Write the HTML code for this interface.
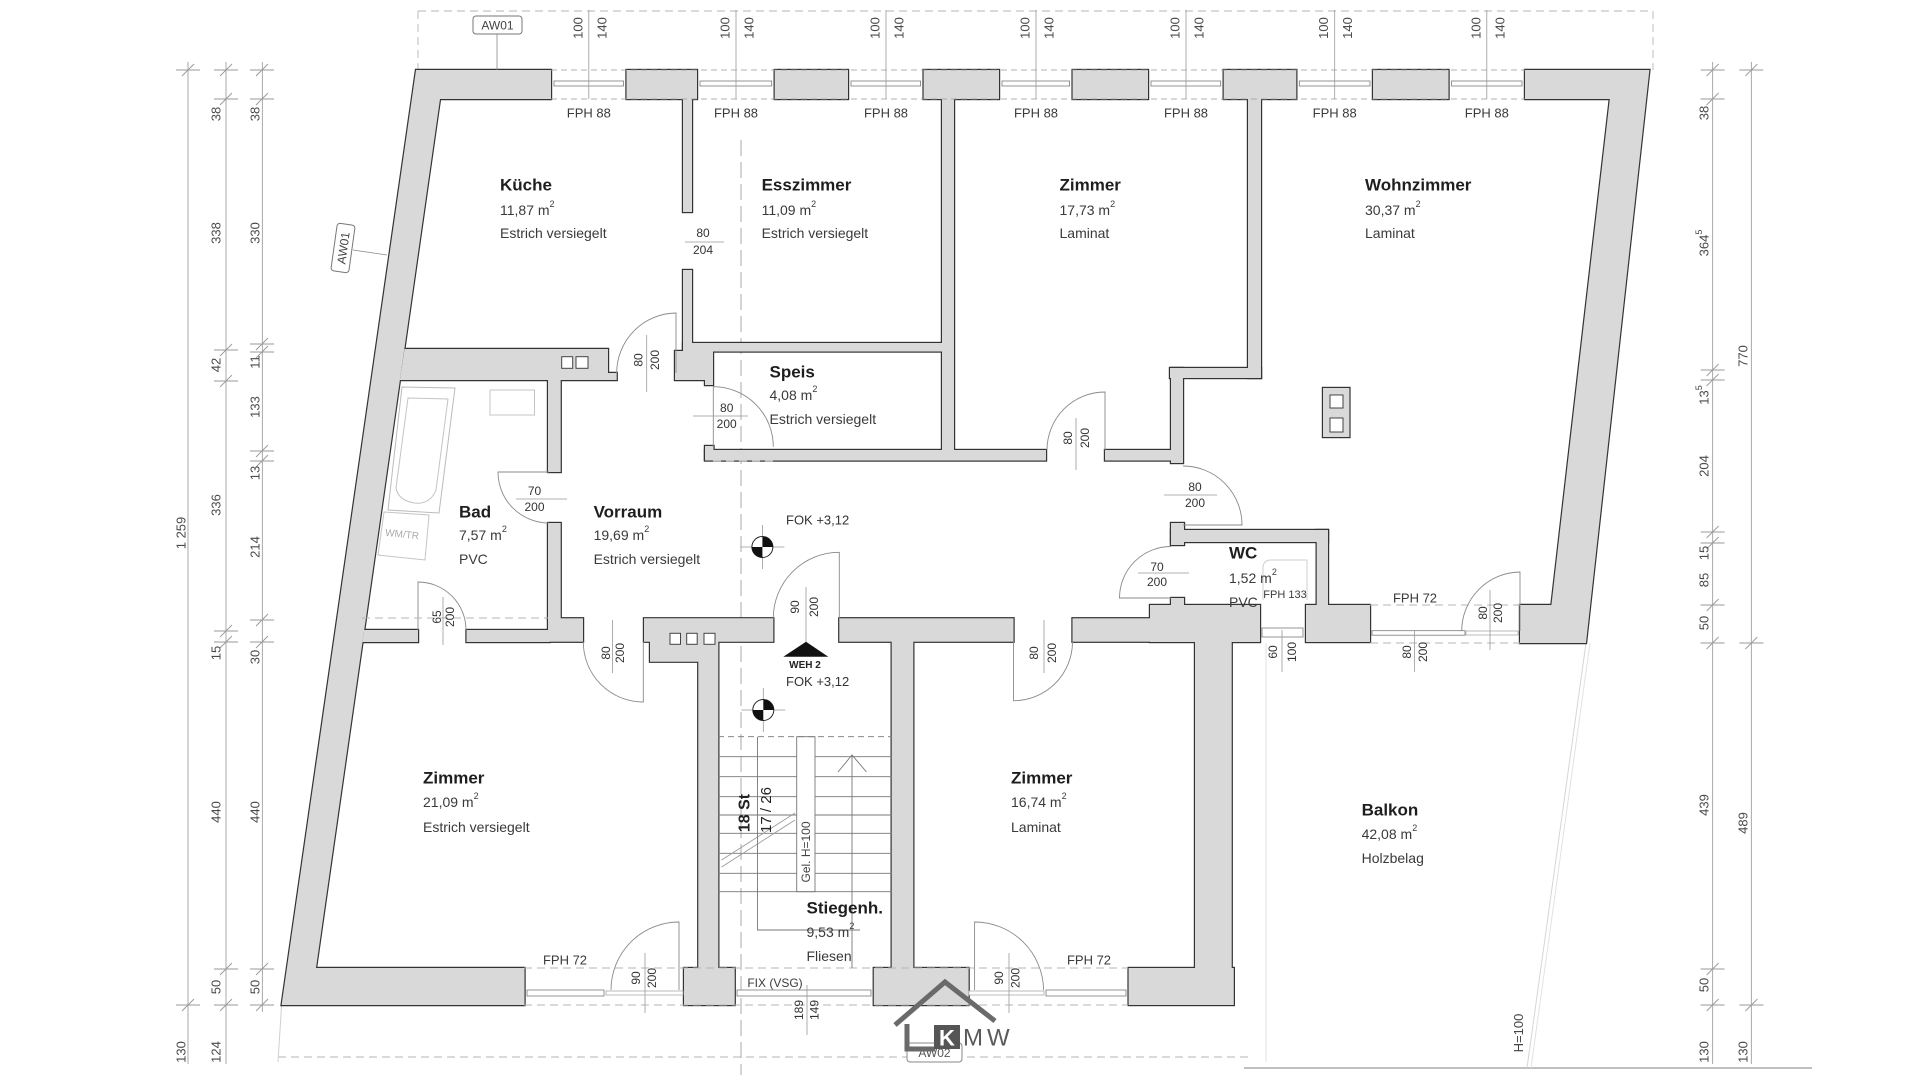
<!DOCTYPE html>
<html><head><meta charset="utf-8"><style>
html,body{margin:0;padding:0;background:#fff;}
svg{display:block;font-family:"Liberation Sans",sans-serif;}
.rn{font-size:17px;font-weight:bold;fill:#1e1e1e;}
.rd{font-size:14px;fill:#3a3a3a;}
.dm{font-size:13px;fill:#4a4a4a;}
.dl{font-size:12px;fill:#333;}
.fp{font-size:13px;fill:#3a3a3a;}
.thin{stroke:#8a8a8a;stroke-width:0.8;fill:none;}
.door{stroke:#8a8a8a;stroke-width:0.9;fill:none;}
.dash{stroke:#b5b5b5;stroke-width:0.9;stroke-dasharray:8 5;fill:none;}
.tick{stroke:#9a9a9a;stroke-width:0.9;}
.gl{stroke:#777;stroke-width:0.8;fill:#fff;}
</style></head><body>
<svg width="1920" height="1080" viewBox="0 0 1920 1080" xmlns="http://www.w3.org/2000/svg">
<defs>
<g id="walls">
  <!-- left outer wall + bottom left -->
  <polygon points="416,70 551,70 551,99 440,99 316,968 524.5,968 524.5,1005 281.6,1005"/>
  <!-- right outer wall -->
  <polygon points="1525,70 1649.4,70 1586,643 1520,643 1520,605 1551.4,605 1609.8,99 1525,99"/>
  <!-- top segments -->
  <rect x="626.5" y="70" width="70.5" height="29"/>
  <rect x="774.7" y="70" width="73.3" height="29"/>
  <rect x="923.6" y="70" width="75.4" height="29"/>
  <rect x="1072.6" y="70" width="75.4" height="29"/>
  <rect x="1223.7" y="70" width="72.6" height="29"/>
  <rect x="1373" y="70" width="75.5" height="29"/>
  <!-- interior -->
  <rect x="683" y="99" width="9" height="113"/>
  <rect x="683" y="270" width="9" height="80"/>
  <rect x="942" y="99" width="12" height="361"/>
  <rect x="683" y="343" width="259" height="8.5"/>
  <polygon points="675,351 713,351 713,385 705,385 705,380 675,380"/>
  <rect x="705" y="446" width="8.5" height="14"/>
  <rect x="705" y="450" width="341" height="10.5"/>
  <rect x="1105" y="450" width="77" height="10.5"/>
  <rect x="1248" y="99" width="13" height="279"/>
  <rect x="1170" y="368" width="91" height="10"/>
  <rect x="1171" y="368" width="12" height="95"/>
  <rect x="1171" y="523" width="13" height="22"/>
  <rect x="1171" y="530" width="157" height="12"/>
  <rect x="1316.7" y="530" width="11.3" height="76"/>
  <rect x="1171" y="598" width="13" height="20"/>
  <rect x="1150" y="605" width="110" height="37"/>
  <rect x="1306" y="605" width="64" height="37"/>
  <!-- Bad top wall -->
  <polygon points="404.5,349 608,349 608,373 616.7,373 616.7,380 399.9,380"/>
  <rect x="548" y="378" width="12.7" height="94"/>
  <rect x="548" y="523" width="12.7" height="96"/>
  <rect x="548" y="618.3" width="35" height="23.4"/>
  <polygon points="364.2,630 418,630 418,642 362.5,642"/>
  <rect x="466.5" y="630" width="83" height="12"/>
  <!-- stair block -->
  <polygon points="644,618.3 773.3,618.3 773.3,641.7 718.3,641.7 718.3,968 698.3,968 698.3,661.7 650,661.7 650,641.7 644,641.7"/>
  <rect x="839.3" y="618.3" width="174.2" height="23.4"/>
  <rect x="1072.5" y="618.3" width="100" height="23.4"/>
  <rect x="891.7" y="641" width="21.6" height="328"/>
  <rect x="1195" y="640" width="36.7" height="329"/>
  <!-- bottom blocks -->
  <rect x="684" y="968" width="50.7" height="37"/>
  <rect x="873.8" y="968" width="94.8" height="37"/>
  <rect x="1128.6" y="968" width="105.2" height="37"/>
  <!-- shaft -->
  <rect x="1323" y="388" width="26.4" height="49"/>
</g>
</defs>

<!-- guide dashed lines -->
<line x1="418" y1="11" x2="1653" y2="11" class="dash" stroke="#c8c8c8"/>
<line x1="418" y1="11" x2="418" y2="70" class="dash"/>
<line x1="1653" y1="11" x2="1653" y2="70" class="dash"/>
<line x1="278" y1="1057" x2="1250" y2="1057" class="dash" stroke="#cfcfcf"/>
<line x1="1244" y1="1068" x2="1812" y2="1068" stroke="#9a9a9a" stroke-width="1.2"/>
<line x1="281.6" y1="1005" x2="278" y2="1062" stroke="#d0d0d0" stroke-width="1"/>
<line x1="1586" y1="643" x2="1527" y2="1068" stroke="#d6d6d6" stroke-width="1"/>
<line x1="1590" y1="643" x2="1531" y2="1068" stroke="#e2e2e2" stroke-width="1"/>
<line x1="1266" y1="643" x2="1266" y2="1062" stroke="#e0e0e0" stroke-width="1"/>
<line x1="741" y1="140" x2="741" y2="1075" stroke="#aaaaaa" stroke-width="1" stroke-dasharray="16 6"/>

<!-- walls -->
<use href="#walls" fill="#d9d9d9" stroke="#333" stroke-width="2.4"/>
<use href="#walls" fill="#d9d9d9" stroke="none"/>

<!-- shaft squares -->
<rect x="1330" y="395" width="13" height="13" fill="#fff" stroke="#444" stroke-width="1"/>
<rect x="1330" y="418" width="13" height="14" fill="#fff" stroke="#444" stroke-width="1"/>
<rect x="561.7" y="356.7" width="11" height="11.6" fill="#fff" stroke="#444" stroke-width="1"/>
<rect x="576" y="356.7" width="12" height="11.6" fill="#fff" stroke="#444" stroke-width="1"/>
<rect x="670" y="633.3" width="10.5" height="11" fill="#fff" stroke="#444" stroke-width="1"/>
<rect x="686.7" y="633.3" width="10.5" height="11" fill="#fff" stroke="#444" stroke-width="1"/>
<rect x="704" y="633.3" width="11" height="11" fill="#fff" stroke="#444" stroke-width="1"/>

<!-- top windows -->
<g>
  <g id="w1">
  </g>
</g>
<g class="thin">
  <line x1="551" y1="70" x2="1525" y2="70" stroke-dasharray="6 4" stroke="#999"/>
  <line x1="551" y1="99" x2="1525" y2="99" stroke-dasharray="6 4" stroke="#999"/>
</g>
<g fill="#fff" stroke="#7a7a7a" stroke-width="0.8">
  <rect x="554" y="81" width="69.5" height="5"/>
  <rect x="700" y="81" width="71.7" height="5"/>
  <rect x="851" y="81" width="69.6" height="5"/>
  <rect x="1002" y="81" width="67.6" height="5"/>
  <rect x="1151" y="81" width="69.7" height="5"/>
  <rect x="1299.3" y="81" width="70.7" height="5"/>
  <rect x="1451.5" y="81" width="70.5" height="5"/>
</g>
<g stroke="#9a9a9a" stroke-width="0.8">
  <line x1="588.8" y1="10" x2="588.8" y2="99"/>
  <line x1="736" y1="10" x2="736" y2="99"/>
  <line x1="886" y1="10" x2="886" y2="99"/>
  <line x1="1036" y1="10" x2="1036" y2="99"/>
  <line x1="1186" y1="10" x2="1186" y2="99"/>
  <line x1="1334.7" y1="10" x2="1334.7" y2="99"/>
  <line x1="1486.8" y1="10" x2="1486.8" y2="99"/>
</g>
<g class="dm" text-anchor="middle" dominant-baseline="central">
  <text transform="translate(577.8,28) rotate(-90)">100</text><text transform="translate(601.8,28) rotate(-90)">140</text>
  <text transform="translate(725,28) rotate(-90)">100</text><text transform="translate(749,28) rotate(-90)">140</text>
  <text transform="translate(875,28) rotate(-90)">100</text><text transform="translate(899,28) rotate(-90)">140</text>
  <text transform="translate(1025,28) rotate(-90)">100</text><text transform="translate(1049,28) rotate(-90)">140</text>
  <text transform="translate(1175,28) rotate(-90)">100</text><text transform="translate(1199,28) rotate(-90)">140</text>
  <text transform="translate(1323.7,28) rotate(-90)">100</text><text transform="translate(1347.7,28) rotate(-90)">140</text>
  <text transform="translate(1475.8,28) rotate(-90)">100</text><text transform="translate(1499.8,28) rotate(-90)">140</text>
</g>
<g class="fp" text-anchor="middle" dominant-baseline="central">
  <text x="588.8" y="113">FPH 88</text>
  <text x="736" y="113">FPH 88</text>
  <text x="886" y="113">FPH 88</text>
  <text x="1036" y="113">FPH 88</text>
  <text x="1186" y="113">FPH 88</text>
  <text x="1334.7" y="113">FPH 88</text>
  <text x="1486.8" y="113">FPH 88</text>
</g>

<!-- AW01 tags -->
<rect x="473" y="16" width="49" height="18" rx="3" fill="#fff" stroke="#777" stroke-width="1"/>
<text x="497.5" y="25.5" text-anchor="middle" dominant-baseline="central" font-size="12" fill="#444">AW01</text>
<line x1="497" y1="34" x2="497" y2="70" stroke="#888" stroke-width="0.8"/>
<g transform="translate(343,248) rotate(-82)">
  <rect x="-24" y="-9" width="48" height="18" rx="3" fill="#fff" stroke="#777" stroke-width="1"/>
  <text x="0" y="0.5" text-anchor="middle" dominant-baseline="central" font-size="12" fill="#444">AW01</text>
</g>
<line x1="353" y1="250" x2="387" y2="255" stroke="#888" stroke-width="0.8"/>

<!-- bathroom fixtures -->
<polygon points="402,387 455,388 439,513 388,510" fill="none" stroke="#bbb" stroke-width="1"/>
<path d="M408,398 L448,399 L436,490 Q430,505 414,503 Q398,500 396,488 Z" fill="none" stroke="#c4c4c4" stroke-width="1"/>
<polygon points="384,512 429,515 425,560 378,555" fill="none" stroke="#c4c4c4" stroke-width="1"/>
<text transform="translate(402,535) rotate(6)" text-anchor="middle" dominant-baseline="central" font-size="10" fill="#aaa">WM/TR</text>
<rect x="490" y="390" width="44.5" height="25" fill="none" stroke="#c4c4c4" stroke-width="1"/>
<path d="M1263,600 L1263,568 Q1263,560 1271,560 L1307,560 L1307,600" fill="none" stroke="#cfcfcf" stroke-width="1"/>

<!-- doors -->
<g class="door">
  <path d="M676,373 L676,313 A60,60 0 0,0 616.7,373"/>
  <path d="M713.3,446.7 L713.3,386.7 A60,60 0 0,1 773.3,446.7"/>
  <path d="M549,472 L498,472 A51,51 0 0,0 549,523"/>
  <path d="M418,630 L418,582 A48,48 0 0,1 466,630"/>
  <path d="M643.3,641.7 L643.3,702 A60,60 0 0,1 583.3,641.7"/>
  <path d="M839.3,618.3 L839.3,552.3 A66,66 0 0,0 773.3,618.3"/>
  <path d="M1105,450 L1105,392 A58,58 0 0,0 1047,450"/>
  <path d="M1183,525 L1242,525 A59,59 0 0,0 1183,466"/>
  <path d="M1171,598 L1119.5,598 A51.5,51.5 0 0,1 1171,546.5"/>
  <path d="M1013.5,641.7 L1013.5,700.7 A59,59 0 0,0 1072.5,641.7"/>
  <path d="M1520,631 L1520,572 A59,59 0 0,0 1461.7,631"/>
  <path d="M679,990 L679,922 A68,68 0 0,0 611,990"/>
  <path d="M974.6,990 L974.6,922 A69,69 0 0,1 1043.6,990"/>
</g>

<!-- bottom/other windows glazing -->
<g fill="#fff" stroke="#7a7a7a" stroke-width="0.8">
  <rect x="527" y="990" width="77" height="6"/>
  <rect x="737" y="990" width="134" height="6"/>
  <rect x="1046" y="990" width="80" height="6"/>
  <rect x="1262" y="628" width="41" height="9"/>
  <rect x="1372" y="630.7" width="93" height="4.5"/>
  <rect x="606" y="991" width="77" height="4" stroke="#aaa"/>
  <rect x="969" y="991" width="75" height="4" stroke="#aaa"/>
  <rect x="1466" y="631" width="52" height="4" stroke="#aaa"/>
</g>
<g class="dash">
  <line x1="524" y1="968" x2="1128" y2="968"/>
  <line x1="524" y1="1005" x2="1128" y2="1005"/>
  <line x1="1370" y1="643" x2="1520" y2="643"/>
  <line x1="1370" y1="605" x2="1520" y2="605"/>
  <line x1="362" y1="618" x2="548" y2="618"/>
  <line x1="713" y1="461" x2="776" y2="461"/>
</g>

<!-- door / window labels -->
<g class="dl" text-anchor="middle" dominant-baseline="central">
  <text x="703" y="233">80</text><text x="703" y="250">204</text>
  <text x="726.7" y="408">80</text><text x="726.7" y="424">200</text>
  <text x="534.5" y="491">70</text><text x="534.5" y="507">200</text>
  <text x="1195" y="487">80</text><text x="1195" y="503">200</text>
  <text x="1157" y="567">70</text><text x="1157" y="582">200</text>
  <text transform="translate(638.3,360) rotate(-90)">80</text><text transform="translate(655,360) rotate(-90)">200</text>
  <text transform="translate(437,617) rotate(-90)">65</text><text transform="translate(450,617) rotate(-90)">200</text>
  <text transform="translate(606,653) rotate(-90)">80</text><text transform="translate(620,653) rotate(-90)">200</text>
  <text transform="translate(795,607) rotate(-90)">90</text><text transform="translate(814,607) rotate(-90)">200</text>
  <text transform="translate(1034,653) rotate(-90)">80</text><text transform="translate(1052,653) rotate(-90)">200</text>
  <text transform="translate(1068,438) rotate(-90)">80</text><text transform="translate(1085,438) rotate(-90)">200</text>
  <text transform="translate(1273,652) rotate(-90)">60</text><text transform="translate(1292,652) rotate(-90)">100</text>
  <text transform="translate(1407,652) rotate(-90)">80</text><text transform="translate(1423,652) rotate(-90)">200</text>
  <text transform="translate(1483,613) rotate(-90)">80</text><text transform="translate(1498,613) rotate(-90)">200</text>
  <text transform="translate(636,978) rotate(-90)">90</text><text transform="translate(652,978) rotate(-90)">200</text>
  <text transform="translate(799,1010) rotate(-90)">189</text><text transform="translate(814.6,1010) rotate(-90)">149</text>
  <text transform="translate(999,978) rotate(-90)">90</text><text transform="translate(1015.4,978) rotate(-90)">200</text>
</g>
<g stroke="#999" stroke-width="0.8">
  <line x1="685" y1="242" x2="724" y2="242"/>
  <line x1="693" y1="416" x2="748" y2="416"/>
  <line x1="516" y1="499" x2="567" y2="499"/>
  <line x1="1164" y1="495" x2="1217" y2="495"/>
  <line x1="1138" y1="573" x2="1189" y2="573"/>
  <line x1="646.7" y1="335" x2="646.7" y2="392"/>
  <line x1="443" y1="597" x2="443" y2="645"/>
  <line x1="612.5" y1="620" x2="612.5" y2="673"/>
  <line x1="806" y1="587" x2="806" y2="642"/>
  <line x1="1044" y1="620" x2="1044" y2="673"/>
  <line x1="1076" y1="418" x2="1076" y2="470"/>
  <line x1="1282" y1="630" x2="1282" y2="672"/>
  <line x1="1414.6" y1="630" x2="1414.6" y2="672"/>
  <line x1="1490" y1="590" x2="1490" y2="650"/>
  <line x1="645" y1="953" x2="645" y2="1013"/>
  <line x1="807" y1="985" x2="807" y2="1035"/>
  <line x1="1009" y1="953" x2="1009" y2="1013"/>
</g>
<g class="fp" text-anchor="middle" dominant-baseline="central">
  <text x="565" y="960">FPH 72</text>
  <text x="1089" y="960">FPH 72</text>
  <text x="1415" y="598">FPH 72</text>
  <text x="1285" y="595" font-size="11">FPH 133</text>
  <text x="775" y="983" font-size="12">FIX (VSG)</text>
</g>

<!-- stairs -->
<g stroke="#777" stroke-width="0.9" fill="none">
  <line x1="718" y1="736.7" x2="891.7" y2="736.7" stroke-dasharray="6 4"/>
  <line x1="718" y1="891.7" x2="891.7" y2="891.7"/>
  <rect x="796.7" y="736.7" width="18.3" height="155"/>
  <line x1="718" y1="756.7" x2="796.7" y2="756.7"/><line x1="815" y1="756.7" x2="891.7" y2="756.7"/>
  <line x1="718" y1="776.7" x2="796.7" y2="776.7"/><line x1="815" y1="776.7" x2="891.7" y2="776.7"/>
  <line x1="718" y1="796.7" x2="796.7" y2="796.7"/><line x1="815" y1="796.7" x2="891.7" y2="796.7"/>
  <line x1="718" y1="815" x2="796.7" y2="815"/><line x1="815" y1="815" x2="891.7" y2="815"/>
  <line x1="718" y1="833.3" x2="796.7" y2="833.3"/><line x1="815" y1="833.3" x2="891.7" y2="833.3"/>
  <line x1="718" y1="853.3" x2="796.7" y2="853.3"/><line x1="815" y1="853.3" x2="891.7" y2="853.3"/>
  <line x1="718" y1="873.3" x2="796.7" y2="873.3"/><line x1="815" y1="873.3" x2="891.7" y2="873.3"/>
  <line x1="721.6" y1="860" x2="795" y2="813" stroke="#999"/>
  <line x1="721.6" y1="867" x2="795" y2="820" stroke="#999"/>
  <line x1="852" y1="755" x2="852" y2="968"/>
  <polyline points="838,772 852,755 866.5,772"/>
  <polyline points="757.5,736.7 757.5,930 860,930"/>
</g>
<g fill="#222" text-anchor="middle" dominant-baseline="central">
  <text transform="translate(745,813) rotate(-90)" font-size="16" font-weight="bold">18 St</text>
  <text transform="translate(766.5,810) rotate(-90)" font-size="15">17 / 26</text>
  <text transform="translate(806,852) rotate(-90)" font-size="12" fill="#444">Gel. H=100</text>
</g>

<!-- level markers -->
<g transform="translate(762.4,547)">
  <line x1="-22" y1="0" x2="22" y2="0" stroke="#999" stroke-width="0.8"/>
  <line x1="0" y1="-22" x2="0" y2="22" stroke="#999" stroke-width="0.8"/>
  <circle r="10.5" fill="#fff" stroke="#222" stroke-width="1"/>
  <path d="M0,0 L0,-10.5 A10.5,10.5 0 0,1 10.5,0 Z" fill="#111"/>
  <path d="M0,0 L0,10.5 A10.5,10.5 0 0,1 -10.5,0 Z" fill="#111"/>
</g>
<g transform="translate(763.3,710)">
  <line x1="-22" y1="0" x2="22" y2="0" stroke="#999" stroke-width="0.8"/>
  <line x1="0" y1="-22" x2="0" y2="22" stroke="#999" stroke-width="0.8"/>
  <circle r="10.5" fill="#fff" stroke="#222" stroke-width="1"/>
  <path d="M0,0 L0,-10.5 A10.5,10.5 0 0,1 10.5,0 Z" fill="#111"/>
  <path d="M0,0 L0,10.5 A10.5,10.5 0 0,1 -10.5,0 Z" fill="#111"/>
</g>
<polygon points="806,641.7 783.3,656.7 828.3,656.7" fill="#111"/>
<text x="805" y="665.5" text-anchor="middle" dominant-baseline="central" font-size="10" font-weight="bold" fill="#222">WEH 2</text>
<text x="786" y="681.7" dominant-baseline="central" font-size="13" fill="#333">FOK +3,12</text>
<text x="786" y="520" dominant-baseline="central" font-size="13" fill="#333">FOK +3,12</text>

<!-- room labels -->
<g dominant-baseline="central">
  <text class="rn" x="500" y="185">Küche</text>
  <text class="rd" x="500" y="210">11,87 m<tspan dy="-6" font-size="9">2</tspan></text>
  <text class="rd" x="500" y="233">Estrich versiegelt</text>

  <text class="rn" x="761.6" y="185">Esszimmer</text>
  <text class="rd" x="761.6" y="210">11,09 m<tspan dy="-6" font-size="9">2</tspan></text>
  <text class="rd" x="761.6" y="233">Estrich versiegelt</text>

  <text class="rn" x="1059.5" y="185">Zimmer</text>
  <text class="rd" x="1059.5" y="210">17,73 m<tspan dy="-6" font-size="9">2</tspan></text>
  <text class="rd" x="1059.5" y="233">Laminat</text>

  <text class="rn" x="1365" y="185">Wohnzimmer</text>
  <text class="rd" x="1365" y="210">30,37 m<tspan dy="-6" font-size="9">2</tspan></text>
  <text class="rd" x="1365" y="233">Laminat</text>

  <text class="rn" x="769.5" y="372">Speis</text>
  <text class="rd" x="769.5" y="395">4,08 m<tspan dy="-6" font-size="9">2</tspan></text>
  <text class="rd" x="769.5" y="419">Estrich versiegelt</text>

  <text class="rn" x="459" y="512">Bad</text>
  <text class="rd" x="459" y="535">7,57 m<tspan dy="-6" font-size="9">2</tspan></text>
  <text class="rd" x="459" y="559">PVC</text>

  <text class="rn" x="593.6" y="512">Vorraum</text>
  <text class="rd" x="593.6" y="535">19,69 m<tspan dy="-6" font-size="9">2</tspan></text>
  <text class="rd" x="593.6" y="559">Estrich versiegelt</text>

  <text class="rn" x="1229" y="553">WC</text>
  <text class="rd" x="1229" y="578">1,52 m<tspan dy="-6" font-size="9">2</tspan></text>
  <text class="rd" x="1229" y="602">PVC</text>

  <text class="rn" x="423" y="778">Zimmer</text>
  <text class="rd" x="423" y="802">21,09 m<tspan dy="-6" font-size="9">2</tspan></text>
  <text class="rd" x="423" y="827">Estrich versiegelt</text>

  <text class="rn" x="806.5" y="908">Stiegenh.</text>
  <text class="rd" x="806.5" y="932">9,53 m<tspan dy="-6" font-size="9">2</tspan></text>
  <text class="rd" x="806.5" y="956">Fliesen</text>

  <text class="rn" x="1011" y="778">Zimmer</text>
  <text class="rd" x="1011" y="802">16,74 m<tspan dy="-6" font-size="9">2</tspan></text>
  <text class="rd" x="1011" y="827">Laminat</text>

  <text class="rn" x="1361.6" y="810">Balkon</text>
  <text class="rd" x="1361.6" y="834">42,08 m<tspan dy="-6" font-size="9">2</tspan></text>
  <text class="rd" x="1361.6" y="858">Holzbelag</text>
</g>
<text transform="translate(1518.7,1033) rotate(-90)" text-anchor="middle" dominant-baseline="central" font-size="13" fill="#444">H=100</text>

<!-- dimension lines -->
<g stroke="#aaa" stroke-width="1">
  <line x1="188" y1="62" x2="188" y2="1064"/>
  <line x1="226" y1="62" x2="226" y2="1064"/>
  <line x1="262.4" y1="62" x2="262.4" y2="1012"/>
  <line x1="1712.6" y1="62" x2="1712.6" y2="1064"/>
  <line x1="1751.4" y1="62" x2="1751.4" y2="1064"/>
</g>
<g class="tick">
  <!-- line1 -->
  <path d="M176,70 h24 M182,76 l12,-12 M176,1005 h24 M182,1011 l12,-12"/>
  <!-- line2 -->
  <path d="M214,70 h24 M220,76 l12,-12 M214,99 h24 M220,105 l12,-12 M214,350 h24 M220,356 l12,-12 M214,381 h24 M220,387 l12,-12 M214,631 h24 M220,637 l12,-12 M214,642 h24 M220,648 l12,-12 M214,969 h24 M220,975 l12,-12 M214,1005 h24 M220,1011 l12,-12"/>
  <!-- line3 -->
  <path d="M250,70 h24 M256,76 l12,-12 M250,99 h24 M256,105 l12,-12 M250,344 h24 M256,350 l12,-12 M250,352 h24 M256,358 l12,-12 M250,451 h24 M256,457 l12,-12 M250,461 h24 M256,467 l12,-12 M250,620 h24 M256,626 l12,-12 M250,642 h24 M256,648 l12,-12 M250,969 h24 M256,975 l12,-12 M250,1005 h24 M256,1011 l12,-12"/>
  <!-- right line1 -->
  <path d="M1700.6,70 h24 M1706.6,76 l12,-12 M1700.6,99 h24 M1706.6,105 l12,-12 M1700.6,370 h24 M1706.6,376 l12,-12 M1700.6,380 h24 M1706.6,386 l12,-12 M1700.6,532 h24 M1706.6,538 l12,-12 M1700.6,543 h24 M1706.6,549 l12,-12 M1700.6,605 h24 M1706.6,611 l12,-12 M1700.6,643 h24 M1706.6,649 l12,-12 M1700.6,969 h24 M1706.6,975 l12,-12 M1700.6,1005 h24 M1706.6,1011 l12,-12"/>
  <!-- right line2 -->
  <path d="M1739.4,70 h24 M1745.4,76 l12,-12 M1739.4,643 h24 M1745.4,649 l12,-12 M1739.4,1005 h24 M1745.4,1011 l12,-12"/>
</g>
<g class="dm" text-anchor="middle" dominant-baseline="central">
  <text transform="translate(181,533) rotate(-90)">1 259</text>
  <text transform="translate(181,1052) rotate(-90)">130</text>

  <text transform="translate(216,114) rotate(-90)">38</text>
  <text transform="translate(216,233) rotate(-90)">338</text>
  <text transform="translate(216,365) rotate(-90)">42</text>
  <text transform="translate(216,505) rotate(-90)">336</text>
  <text transform="translate(216,653) rotate(-90)">15</text>
  <text transform="translate(216,812) rotate(-90)">440</text>
  <text transform="translate(216,987) rotate(-90)">50</text>
  <text transform="translate(216,1052) rotate(-90)">124</text>

  <text transform="translate(255,114) rotate(-90)">38</text>
  <text transform="translate(255,233) rotate(-90)">330</text>
  <text transform="translate(255,362) rotate(-90)">11</text>
  <text transform="translate(255,407) rotate(-90)">133</text>
  <text transform="translate(255,473) rotate(-90)">13</text>
  <text transform="translate(255,547) rotate(-90)">214</text>
  <text transform="translate(255,657) rotate(-90)">30</text>
  <text transform="translate(255,812) rotate(-90)">440</text>
  <text transform="translate(255,987) rotate(-90)">50</text>

  <text transform="translate(1704,113) rotate(-90)">38</text>
  <text transform="translate(1704,243) rotate(-90)">364<tspan dy="-5" font-size="9">5</tspan></text>
  <text transform="translate(1704,395) rotate(-90)">13<tspan dy="-5" font-size="9">5</tspan></text>
  <text transform="translate(1704,466) rotate(-90)">204</text>
  <text transform="translate(1704,553) rotate(-90)">15</text>
  <text transform="translate(1704,580) rotate(-90)">85</text>
  <text transform="translate(1704,623) rotate(-90)">50</text>
  <text transform="translate(1704,805) rotate(-90)">439</text>
  <text transform="translate(1704,985) rotate(-90)">50</text>
  <text transform="translate(1704,1052) rotate(-90)">130</text>

  <text transform="translate(1743,356) rotate(-90)">770</text>
  <text transform="translate(1743,823) rotate(-90)">489</text>
  <text transform="translate(1743,1052) rotate(-90)">130</text>
</g>

<!-- AW02 tag + logo -->
<rect x="907" y="1043" width="55" height="19" rx="3" fill="#fff" stroke="#888" stroke-width="1"/>
<text x="934.5" y="1053" text-anchor="middle" dominant-baseline="central" font-size="12" fill="#555">AW02</text>
<g fill="none" stroke="#6a6a6a" stroke-width="5" stroke-linejoin="miter">
  <polyline points="895,1025 945,982 995,1021"/>
  <polyline points="907,1024 907,1049 935,1049"/>
</g>
<rect x="934" y="1025" width="26" height="24" fill="#555"/>
<text x="947" y="1038" text-anchor="middle" dominant-baseline="central" font-size="22" font-weight="bold" fill="#fff">K</text>
<text x="963" y="1038" dominant-baseline="central" font-size="24" fill="#5a5a5a" letter-spacing="4">MW</text>
</svg>
</body></html>
